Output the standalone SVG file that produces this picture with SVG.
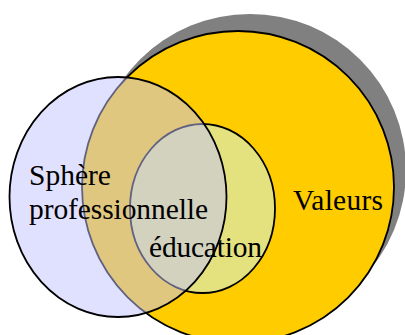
<svg xmlns="http://www.w3.org/2000/svg" width="405" height="335" viewBox="0 0 405 335">
<style>
.lbl{font-family:"Liberation Serif","Times New Roman",serif;font-size:29.5px;fill:#000}
.ol{stroke:#000;stroke-width:1.8}
</style>
<rect width="405" height="335" fill="#fff"/>
<g id="valeurs">
<circle cx="250" cy="170" r="156" fill="#808080"/>
<circle class="ol" cx="238" cy="187" r="156" fill="#FFCC00"/>
</g>
<g id="education">
<ellipse class="ol" cx="202.5" cy="208.5" rx="72.5" ry="84.5" fill="#E3E27F"/>
</g>
<g id="sphere">
<ellipse class="ol" cx="118" cy="197" rx="108.5" ry="120" fill="#C1C1FF" fill-opacity="0.5"/>
</g>
<g id="labels">
<text class="lbl" x="29" y="185">Sphère</text>
<text class="lbl" x="29" y="219" textLength="179">professionnelle</text>
<text class="lbl" x="149" y="257" textLength="113">éducation</text>
<text class="lbl" x="293" y="210" textLength="90">Valeurs</text>
</g>
</svg>
